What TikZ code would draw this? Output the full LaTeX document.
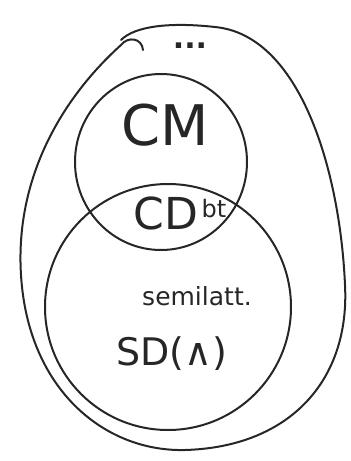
\documentclass[tikz,border=0pt]{standalone}
\usepackage{fontspec}
\setsansfont{DejaVu Sans}
\usetikzlibrary{positioning,shapes.geometric}
\tikzset{
  x=1pt, y=-1pt,
  setline/.style = {draw=black!85, line width=2pt, line cap=round},
  setbox/.style = {setline, ellipse, inner sep=0pt},
  setname/.style = {font=\sffamily, text=black!85, inner sep=1pt},
  bigname/.style = {setname, font=\sffamily\fontsize{56}{58}\selectfont},
  midname/.style = {setname, font=\sffamily\fontsize{44}{46}\selectfont},
  smallname/.style = {setname, font=\sffamily\fontsize{25}{27}\selectfont}
}

\begin{document}
\begin{tikzpicture}
\useasboundingbox (0,0) rectangle (351,461);
% outer egg with the small hook at the top
\draw [setline] (143,50) .. controls (142,38) and (128,36) .. (121,45)
	.. controls (60,100) and (15,180) .. (21,275)
	.. controls (28,390) and (105,452) .. (185,450)
	.. controls (290,447) and (350,380) .. (345,285)
	.. controls (340,170) and (300,35) .. (215,27)
	.. controls (170,22) and (135,26) .. (121,40);
% the two sets
\node [setbox, minimum width=172, minimum height=176] (cm) at (161,162) {};
\node [setbox, minimum width=246, minimum height=246] (sd) at (168,307) {};
% labels
\node [setname, font=\sffamily\bfseries\fontsize{30}{30}\selectfont] (dots) at (190,46) {...};
\node [bigname] (cmlabel) at (165,125) {CM};
\node [midname] (cdlabel) at (166,213) {CD};
\node [setname, font=\sffamily\fontsize{24}{26}\selectfont, right=1pt of cdlabel.east, yshift=4pt] (bt) {bt};
\node [smallname] (semi) at (197,296) {semilatt.};
\node [midname, font=\sffamily\fontsize{38}{40}\selectfont] (sdlabel) at (172,354) {SD(∧)};
\end{tikzpicture}
\end{document}
